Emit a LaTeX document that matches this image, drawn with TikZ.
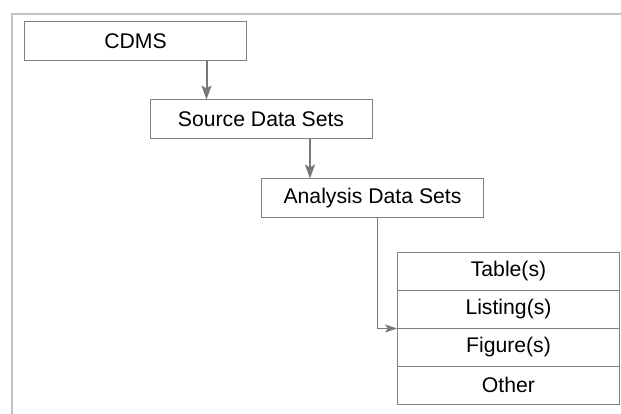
\documentclass[tikz,border=0pt]{standalone}
\usepackage{fontspec}
\setmainfont{Liberation Sans}
\usetikzlibrary{arrows.meta,calc}
\definecolor{framec}{HTML}{C4C4C4}
\definecolor{boxc}{HTML}{808080}
\definecolor{arrc}{HTML}{787878}
\begin{document}
\begin{tikzpicture}[x=1pt,y=-1pt,
  box/.style={draw=boxc,line width=1pt,fill=white,minimum width=222pt,minimum height=39pt,inner sep=0pt,font=\fontsize{21.2}{24}\selectfont,anchor=center},
  row/.style={box,minimum height=38pt},
  arr/.style={draw=arrc,line width=2pt,-{Stealth[length=14pt,width=10pt,inset=3pt]}},
  thinarr/.style={draw=arrc,line width=1pt,-{Stealth[length=12pt,width=8pt,inset=3pt]}}]
\useasboundingbox[fill=white] (0,0) rectangle (621,414);
\draw[framec,line width=2pt] (12,415) -- (12,14) -- (622,14);
\node[box] (cdms) at (135.5,41.5) {CDMS};
\node[box] (src) at (261,119.5) {Source Data Sets};
\node[box] (ads) at (372.5,198.5) {Analysis Data Sets};
\node[row] (t1) at (508.5,271) {Table(s)};
\node[row] (t2) at (508.5,309) {Listing(s)};
\node[row] (t3) at (508.5,347) {Figure(s)};
\node[row] (t4) at (508.5,385) {Other};
\draw[arr] ([xshift=71pt]cdms.south) -- ([xshift=71pt]cdms.south |- src.north);
\draw[arr] ([xshift=49pt]src.south) -- ([xshift=49pt]src.south |- ads.north);
\draw[thinarr] ([xshift=4.5pt]ads.south) |- (t2.south west);
\end{tikzpicture}
\end{document}
